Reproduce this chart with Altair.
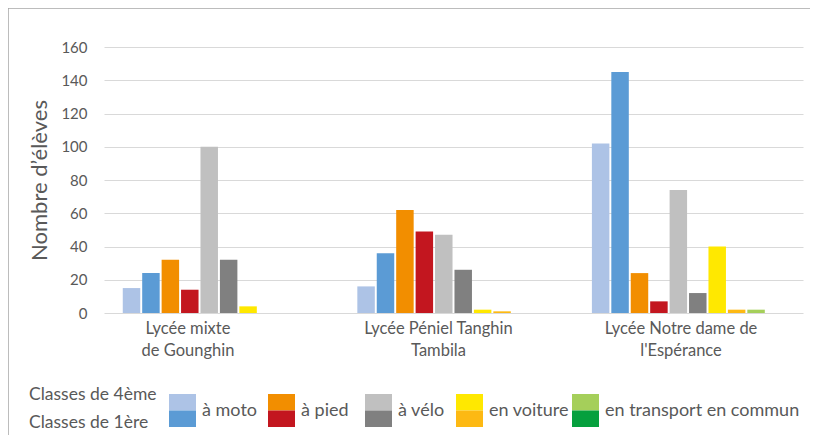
import altair as alt
import pandas as pd

# ---- data ----
SCHOOLS = ["Lycée mixte\nde Gounghin", "Lycée Péniel Tanghin\nTambila", "Lycée Notre dame de\nl'Espérance"]
MODES = ["à moto", "à pied", "à vélo", "en voiture", "en transport en commun"]
CLASSES = ["Classes de 4ème", "Classes de 1ère"]

moto_4 = [15, 16, 102]
moto_1 = [24, 36, 145]
pied_4 = [32, 62, 24]
pied_1 = [14, 49, 7]
velo_4 = [100, 47, 74]
velo_1 = [32, 26, 12]
voiture_4 = [4, 2, 40]
voiture_1 = [0, 1, 2]
transport_4 = [0, 0, 2]
transport_1 = [0, 0, 0]

SERIES = [
    ("à moto", "Classes de 4ème", moto_4), ("à moto", "Classes de 1ère", moto_1),
    ("à pied", "Classes de 4ème", pied_4), ("à pied", "Classes de 1ère", pied_1),
    ("à vélo", "Classes de 4ème", velo_4), ("à vélo", "Classes de 1ère", velo_1),
    ("en voiture", "Classes de 4ème", voiture_4), ("en voiture", "Classes de 1ère", voiture_1),
    ("en transport en commun", "Classes de 4ème", transport_4),
    ("en transport en commun", "Classes de 1ère", transport_1),
]

# ---- styles ----
COLORS_4 = ["#adc3e6", "#f28e00", "#c0c0c0", "#ffe800", "#a5cf5a"]
COLORS_1 = ["#5b9bd5", "#c3161f", "#808080", "#fdb913", "#06a03e"]
TEXT = "#595959"
FONT = "Lato"

rows = []
for mode, cls, vals in SERIES:
    for s, v in zip(SCHOOLS, vals):
        rows.append({"school": s, "series": f"{mode} | {cls}", "value": v})
df = pd.DataFrame(rows)
series_order = [f"{m} | {c}" for m, c, _ in SERIES]
series_colors = []
for i in range(len(MODES)):
    series_colors += [COLORS_4[i], COLORS_1[i]]

W, H = 699, 266

label_offset = {
    "condition": [
        {"test": "indexof(datum.value, 'Gounghin') >= 0", "value": -31},
        {"test": "indexof(datum.value, 'Tambila') >= 0", "value": -15},
    ],
    "value": -7,
}

bars = alt.Chart(df).mark_bar().encode(
    x=alt.X("school:N", sort=SCHOOLS,
            scale=alt.Scale(paddingInner=0.18, paddingOuter=0.08),
            axis=alt.Axis(title=None, domain=False, ticks=False, tickSize=0,
                          labelAngle=0, labelPadding=7, labelFontSize=16.5,
                          labelLineHeight=22, labelColor=TEXT, labelFont=FONT,
                          labelLimit=300, labelBaseline="top",
                          labelOffset=label_offset,
                          labelExpr="split(datum.label, '\\n')")),
    xOffset=alt.XOffset("series:N", sort=series_order,
                        scale=alt.Scale(paddingInner=0.1)),
    y=alt.Y("value:Q", scale=alt.Scale(domain=[0, 160]),
            axis=alt.Axis(title="Nombre d’élèves", values=list(range(0, 161, 20)),
                          domain=False, ticks=False, tickSize=0, labelPadding=17,
                          grid=True, gridColor="#d9d9d9", gridWidth=1,
                          labelFontSize=15, labelColor=TEXT, labelFont=FONT,
                          titleFontSize=22, titleFontWeight="normal", titleColor=TEXT,
                          titleFont=FONT, titlePadding=9)),
    color=alt.Color("series:N", scale=alt.Scale(domain=series_order, range=series_colors),
                    legend=None),
)

# ---- custom legend (layout in pixels relative to plot area) ----
LEG_SWATCH_X = [65, 164, 261, 352, 468]
SW_W = 27
SW_TOP, SW_MID, SW_BOT = 347, 363.5, 380
leg_rows = []
leg_text = []
for i, m in enumerate(MODES):
    x0 = LEG_SWATCH_X[i]
    leg_rows.append({"x": x0, "x2": x0 + SW_W, "y": SW_TOP, "y2": SW_MID, "col": COLORS_4[i]})
    leg_rows.append({"x": x0, "x2": x0 + SW_W, "y": SW_MID, "y2": SW_BOT, "col": COLORS_1[i]})
    leg_text.append({"x": x0 + SW_W + 6, "y": SW_MID, "label": m})
leg_df = pd.DataFrame(leg_rows)
legt_df = pd.DataFrame(leg_text)
cls_df = pd.DataFrame({"x": [-75, -75], "y": [348, 376], "label": CLASSES})

swatches = alt.Chart(leg_df).mark_rect().encode(
    x=alt.X("x:Q", scale=None), x2="x2:Q",
    y=alt.Y("y:Q", scale=None), y2="y2:Q",
    color=alt.Color("col:N", scale=None),
)
swatch_labels = alt.Chart(legt_df).mark_text(
    align="left", baseline="middle", fontSize=18, font=FONT, color=TEXT
).encode(x=alt.X("x:Q", scale=None), y=alt.Y("y:Q", scale=None), text="label:N")
class_labels = alt.Chart(cls_df).mark_text(
    align="left", baseline="middle", fontSize=17.5, font=FONT, color=TEXT
).encode(x=alt.X("x:Q", scale=None), y=alt.Y("y:Q", scale=None), text="label:N")

frame = alt.Chart(pd.DataFrame({"a": [0]})).mark_rect(
    fillOpacity=0, stroke="#a6a6a6", strokeWidth=1.5
).encode(x=alt.value(-96), x2=alt.value(740), y=alt.value(-39), y2=alt.value(420))

chart = alt.layer(bars, swatches, swatch_labels, class_labels, frame).resolve_scale(
    color="independent"
).properties(
    width=W, height=H,
    padding={"left": 96, "top": 39, "right": 7, "bottom": 122},
    autosize=alt.AutoSizeParams(type="none"),
).configure_view(strokeWidth=0)

chart.save("out.html", embed_options={"renderer": "svg", "actions": False})
